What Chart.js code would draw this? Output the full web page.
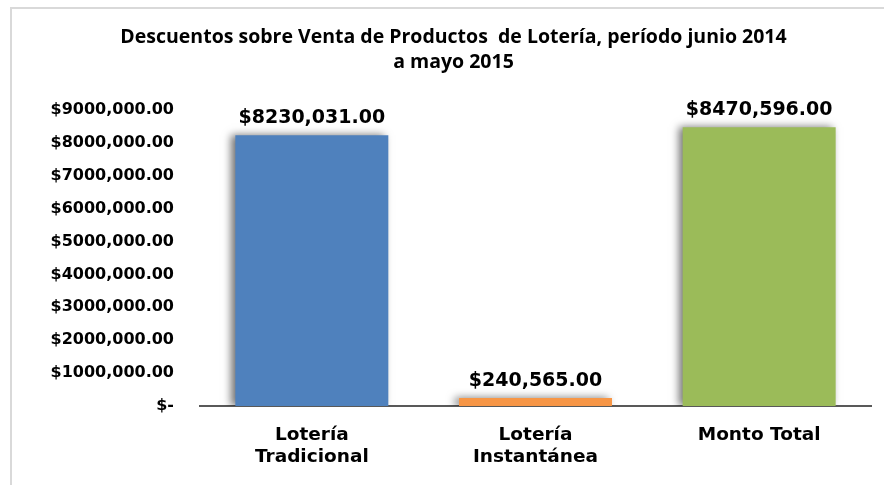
<!DOCTYPE html>
<html>
<head>
<meta charset="utf-8">
<script src="https://cdn.jsdelivr.net/npm/chart.js@4"></script>
<style>
  html, body { margin: 0; padding: 0; background: #fff; }
  #wrap { width: 884px; height: 485px; }
</style>
</head>
<body>
<div id="wrap"><canvas id="barChart" width="884" height="485"></canvas></div>
<script>
// categories and values
const categories = [['Lotería', 'Tradicional'], ['Lotería', 'Instantánea'], 'Monto Total'];
const montos = [8230031, 240565, 8470596];
const valueLabels = ['$8230,031.00', '$240,565.00', '$8470,596.00'];
const barColors = ['#4f81bd', '#f79646', '#9bbb59'];
const yTickLabels = ['$-', '$1000,000.00', '$2000,000.00', '$3000,000.00', '$4000,000.00',
  '$5000,000.00', '$6000,000.00', '$7000,000.00', '$8000,000.00', '$9000,000.00'];

// light gray frame round the chart, like the Excel chart border
const framePlugin = {
  id: 'frame',
  beforeDraw(chart) {
    const ctx = chart.ctx;
    ctx.save();
    ctx.fillStyle = '#d9d9d9';
    ctx.fillRect(10, 7, 2, chart.height - 7);
    ctx.fillRect(10, 7, chart.width - 10, 2);
    ctx.restore();
  }
};

// soft shadow on the left side of the bars
const shadowPlugin = {
  id: 'barShadow',
  beforeDatasetsDraw(chart) {
    const ctx = chart.ctx;
    ctx.save();
    ctx.shadowColor = 'rgba(0,0,0,0.55)';
    ctx.shadowBlur = 8;
    ctx.shadowOffsetX = -4;
    ctx.shadowOffsetY = 0;
  },
  afterDatasetsDraw(chart) {
    chart.ctx.restore();
  }
};

// value labels above each bar
const valuePlugin = {
  id: 'valueLabels',
  afterDatasetsDraw(chart) {
    const ctx = chart.ctx;
    const meta = chart.getDatasetMeta(0);
    ctx.save();
    ctx.font = 'bold 19px "DejaVu Sans"';
    ctx.fillStyle = '#000';
    ctx.textAlign = 'center';
    ctx.textBaseline = 'middle';
    meta.data.forEach((bar, i) => {
      ctx.fillText(valueLabels[i], bar.x, bar.y - 17);
    });
    ctx.restore();
  }
};

new Chart(document.getElementById('barChart'), {
  type: 'bar',
  data: {
    labels: categories,
    datasets: [{
      data: montos,
      backgroundColor: barColors,
      borderWidth: 0,
      barPercentage: 0.684,
      categoryPercentage: 1
    }]
  },
  options: {
    responsive: false,
    animation: false,
    layout: { padding: { left: 36, right: 13, top: 0, bottom: 0 } },
    scales: {
      x: {
        grid: { display: false },
        border: { display: true, color: '#595959', width: 2 },
        ticks: {
          color: '#000',
          padding: 10,
          font: { family: 'DejaVu Sans', size: 18.5, weight: 'bold', lineHeight: 1.19 }
        },
        afterFit(scale) { scale.height = 79; }
      },
      y: {
        min: 0,
        max: 9000000,
        grid: { display: false },
        border: { display: false },
        ticks: {
          stepSize: 1000000,
          color: '#000',
          padding: 18,
          font: { family: 'DejaVu Sans', size: 16, weight: 'bold' },
          callback: (v, i) => yTickLabels[i]
        },
        afterFit(scale) { scale.width = 164; }
      }
    },
    plugins: {
      legend: { display: false },
      tooltip: { enabled: false },
      title: {
        display: true,
        text: ['Descuentos sobre Venta de Productos  de Lotería, período junio 2014', 'a mayo 2015'],
        color: '#000',
        font: { family: 'Open Sans', size: 19.5, weight: 'bold', lineHeight: 1.28 },
        padding: { top: 25, bottom: 35 }
      }
    }
  },
  plugins: [framePlugin, shadowPlugin, valuePlugin]
});
</script>
</body>
</html>
